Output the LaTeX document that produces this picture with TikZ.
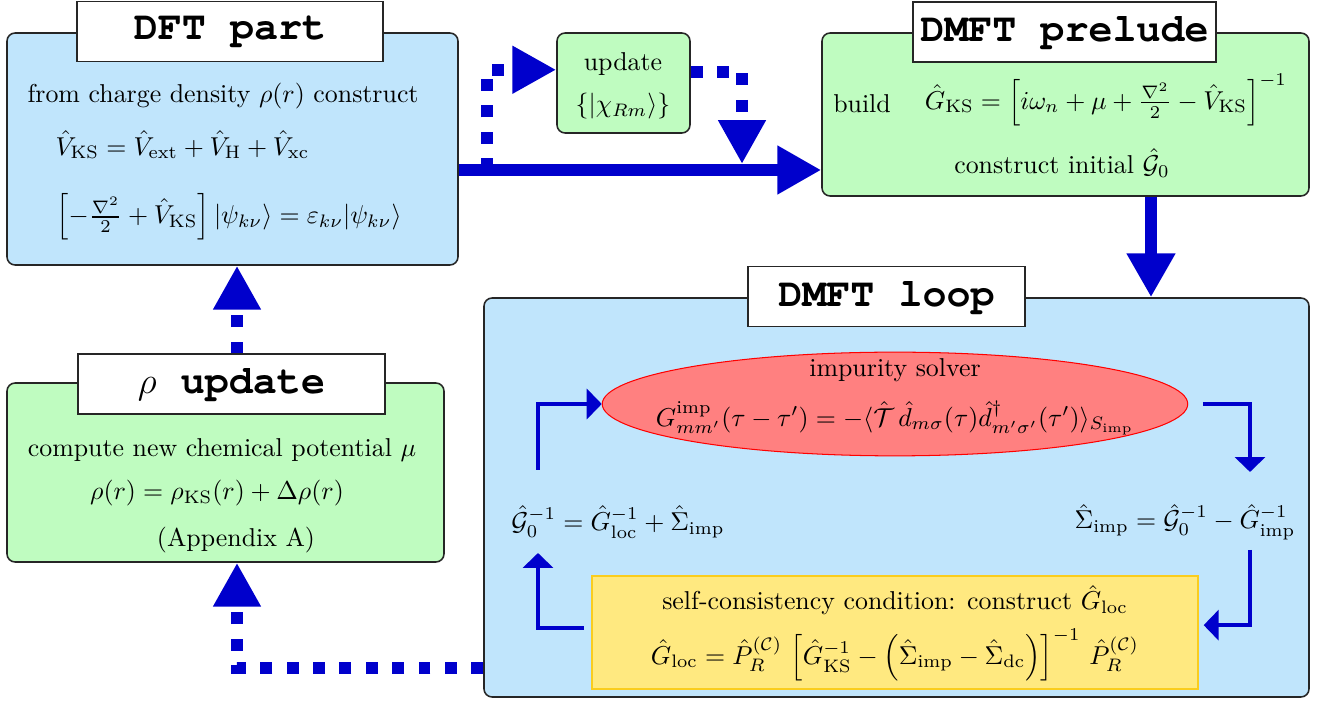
\documentclass[tikz,border=0pt]{standalone}
\usepackage[T1,TU]{fontenc}
\usepackage{fontspec}
\newcommand\titlefont{\fontencoding{T1}\fontfamily{pcr}\fontseries{b}\selectfont}
\usetikzlibrary{arrows.meta,fit,shapes.geometric,positioning}
\definecolor{boxblue}{RGB}{192,229,252}
\definecolor{boxgreen}{RGB}{191,252,192}
\definecolor{solverred}{RGB}{255,128,128}
\definecolor{sccyellow}{RGB}{255,233,128}
\definecolor{sccedge}{RGB}{250,205,30}
\definecolor{flowblue}{RGB}{0,0,204}
\tikzset{
  panel/.style={draw=black!85, line width=0.6pt, rounded corners=0.11cm, inner sep=0pt},
  bluepanel/.style={panel, fill=boxblue},
  greenpanel/.style={panel, fill=boxgreen},
  titlebox/.style={draw=black!85, line width=0.6pt, fill=white, inner sep=0pt,
    minimum height=0.81cm, font=\fontsize{15.5}{18}\selectfont\titlefont},
  bigarrow/.style={draw=flowblue, line width=4.6pt, -{Triangle[length=17pt,width=17.8pt]}},
  dotarrow/.style={draw=flowblue, line width=4.6pt, dash pattern=on 4.6pt off 5.6pt,
    -{Triangle[length=17pt,width=17.4pt]}},
  looparrow/.style={draw=flowblue, line width=1.5pt, -{Triangle[length=5.8pt,width=11.6pt]}},
  txt/.style={inner sep=0pt}
}
\begin{document}
\begin{tikzpicture}[x=0.0136cm,y=0.0136cm]
  \useasboundingbox (0,0) rectangle (1327,-705);

  % panels
  \node[bluepanel, fit={(7,-33) (458,-265)}] (dft) {};
  \node[greenpanel, fit={(557,-33) (690,-133)}] (upd) {};
  \node[greenpanel, fit={(822,-33) (1309,-196)}] (prel) {};
  \node[bluepanel, fit={(484,-298) (1309,-697)}] (loop) {};
  \node[greenpanel, fit={(7,-383) (444,-562)}] (rho) {};

  % titles
  \node[titlebox, minimum width=4.16cm] (dfttitle) at (230,-31.5) {DFT part};
  \node[titlebox, minimum width=4.12cm] (preltitle) at (1064.5,-32) {DMFT prelude};
  \node[titlebox, minimum width=3.77cm] (looptitle) at (886.5,-296.5) {DMFT loop};
  \node[titlebox, minimum width=4.18cm] (rhotitle) at (231.5,-384) {$\rho$ update};

  % DFT part
  \node[txt, anchor=west] (dft1) at (27,-96) {from charge density $\rho(r)$ construct};
  \node[txt, anchor=west] (dft2) at (55,-145)
    {$\hat V_{\mathrm{KS}} = \hat V_{\mathrm{ext}} + \hat V_{\mathrm{H}} + \hat V_{\mathrm{xc}}$};
  \node[txt] (dft3) at (229,-217)
    {$\left[-\frac{\nabla^2}{2} + \hat V_{\mathrm{KS}}\right] |\psi_{k\nu}\rangle = \varepsilon_{k\nu}|\psi_{k\nu}\rangle$};

  % update of projectors
  \node[txt] (upd1) at (623,-64) {update};
  \node[txt] (upd2) at (623,-106) {$\{|\chi_{Rm}\rangle\}$};

  % DMFT prelude
  \node[txt] (prel1) at (862,-104) {build};
  \node[txt] (prel2) at (1106,-100)
    {$\hat G_{\mathrm{KS}} = \left[i\omega_n + \mu + \frac{\nabla^2}{2} - \hat V_{\mathrm{KS}}\right]^{-1}$};
  \node[txt] (prel3) at (1062,-163) {construct initial $\hat{\mathcal G}_0$};

  % rho update
  \node[txt] (rho1) at (222,-450) {compute new chemical potential $\mu$};
  \node[txt] (rho2) at (217,-493) {$\rho(r) = \rho_{\mathrm{KS}}(r) + \Delta\rho(r)$};
  \node[txt] (rho3) at (236,-540) {(Appendix A)};

  % DMFT loop
  \node[ellipse, draw=red, fill=solverred, inner sep=0pt, minimum width=7.96cm,
    minimum height=1.41cm] (solver) at (895,-404) {};
  \node[txt] (solver1) at (895,-370) {impurity solver};
  \node[txt] (solver2) at (895,-418)
    {$G^{\mathrm{imp}}_{mm'}(\tau-\tau') = -\langle \hat{\mathcal T}\, \hat d_{m\sigma}(\tau) \hat d^\dagger_{m'\sigma'}(\tau')\rangle_{S_{\mathrm{imp}}}$};
  \node[txt] (weiss) at (618,-522)
    {$\hat{\mathcal G}_0^{-1} = \hat G_{\mathrm{loc}}^{-1} + \hat\Sigma_{\mathrm{imp}}$};
  \node[txt] (sigma) at (1185,-522)
    {$\hat\Sigma_{\mathrm{imp}} = \hat{\mathcal G}_0^{-1} - \hat G_{\mathrm{imp}}^{-1}$};
  \node[draw=sccedge, fill=sccyellow, inner sep=0pt, fit={(592,-576) (1198,-689)}] (scc) {};
  \node[txt] (scc1) at (895,-600) {self-consistency condition: construct $\hat G_{\mathrm{loc}}$};
  \node[txt] (scc2) at (895,-655)
    {$\hat G_{\mathrm{loc}} = \hat P_R^{(\mathcal C)}\, \left[\hat G_{\mathrm{KS}}^{-1} - \Big(\hat\Sigma_{\mathrm{imp}} - \hat\Sigma_{\mathrm{dc}}\Big)\right]^{-1}\, \hat P_R^{(\mathcal C)}$};

  % flow
  \coordinate (mainy) at (0,-170);
  \coordinate (splitA) at (487,-170);
  \coordinate (splitB) at (742,-164);
  \coordinate (downx) at (1151,0);
  \coordinate (upx) at (237,0);
  \coordinate (backy) at (0,-668);
  \draw[dotarrow] (splitA) |- ([yshift=0.18cm]upd.west);
  \draw[dotarrow] ([yshift=0.15cm]upd.east) -| (splitB);
  \draw[bigarrow] (dft.east |- mainy) -- (prel.west |- mainy);
  \draw[bigarrow] (prel.south -| downx) -- (loop.north -| downx);
  \draw[dotarrow] (rhotitle.north -| upx) -- (dft.south -| upx);
  \draw[dotarrow] (loop.west |- backy) -| (rho.south -| upx);

  % loop arrows
  \coordinate (c1) at (538,-470);
  \coordinate (c2) at (1250,-472);
  \coordinate (c3) at (1250,-550);
  \coordinate (c4) at (538,-553);
  \draw[looparrow] (c1) |- (solver.west);
  \draw[looparrow] ([xshift=0.2cm]solver.east) -| (c2);
  \draw[looparrow] (c3) |- ([xshift=0.07cm,yshift=0.1cm]scc.east);
  \draw[looparrow] ([xshift=-0.1cm,yshift=0.06cm]scc.west) -| (c4);
\end{tikzpicture}
\end{document}
